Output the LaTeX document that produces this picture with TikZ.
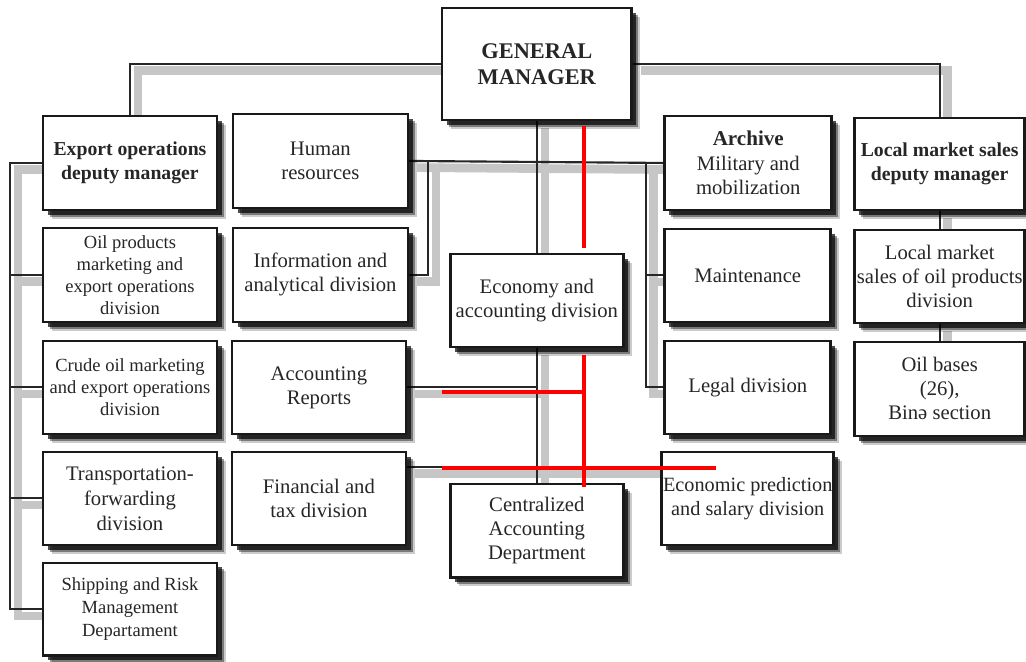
\documentclass[tikz,border=0pt]{standalone}
\usepackage{fontspec}
\setmainfont{Liberation Serif}
\usetikzlibrary{shadows,calc}
\pgfdeclarelayer{back}
\pgfdeclarelayer{bg}
\pgfsetlayers{back,bg,main}
\tikzset{
  box/.style={draw=black!90, line width=2pt, fill=white, align=center, inner sep=1pt,
    font=\fontsize{15.5}{18}\selectfont, text=black!85,
    general shadow={fill=black, opacity=0.2, shadow xshift=6.5pt, shadow yshift=-6.5pt},
    general shadow={fill=black, opacity=0.4, shadow xshift=5pt, shadow yshift=-5pt},
    general shadow={fill=black, opacity=0.7, shadow xshift=3.5pt, shadow yshift=-3.5pt}},
  sz/.style 2 args={minimum width=#1*0.75pt, minimum height=#2*0.75pt},
  smalltext/.style={font=\fontsize{13.9}{16.4}\selectfont},
  boldtext/.style={font=\bfseries\fontsize{14.8}{17.8}\selectfont},
  connsh/.style={draw=gray!45, line width=6.5pt},
  conn/.style={draw=black!85, line width=1.6pt},
  redline/.style={draw=red, line width=3.4pt}
}
\newcommand\orgconnectors[1]{%
  \draw[#1] (gm.west) -| (exp.north);
  \draw[#1] (gm.east) -| (loc.north);
  \draw[#1] (exp.west) -- (lb |- exp.west) -- (lb |- ship.west) -- (ship.west);
  \draw[#1] (oil.west) -- (lb |- oil.west);
  \draw[#1] (crude.west) -- (lb |- crude.west);
  \draw[#1] (trans.west) -- (lb |- trans.west);
  \draw[#1] (gm.south) -- (econ.north);
  \draw[#1] (econ.south) -- (cent.north);
  \draw[#1] (hr.east) -- (arch.west);
  \draw[#1] (info.east) -- (ic |- info.east) -- (ic |- hr.east);
  \draw[#1] (rb |- arch.west) -- (rb |- legal.west) -- (legal.west);
  \draw[#1] (maint.west) -- (rb |- maint.west);
  \draw[#1] (accr.east) -- (gm.south |- accr.east);
  \draw[#1] (fin.east |- fy) -- (ecop.west |- fy);
  \draw[#1] (loc.south) -- (lms.north);
  \draw[#1] (lms.south) -- (oilb.north);
}
\begin{document}
\begin{tikzpicture}[x=0.75pt, y=-0.75pt]
\begin{pgfonlayer}{back}
\path[use as bounding box, fill=white] (0,0) rectangle (1026,662);
\end{pgfonlayer}

% helper coordinates
\coordinate (lb) at (10,0);
\coordinate (ic) at (428,0);
\coordinate (rb) at (646,0);
\coordinate (fy) at (0,467);

% boxes
\node[box, sz={190}{112}, font=\bfseries\fontsize{16.8}{19.5}\selectfont] (gm) at (537,64) {GENERAL\\MANAGER};
\node[box, sz={174}{94}, boldtext] (exp) at (130,163) {Export operations\\deputy manager};
\node[box, sz={175}{94}] (hr) at (320.5,161) {Human\\resources};
\node[box, sz={167}{94}, font=\fontsize{15.5}{18.5}\selectfont] (arch) at (748.5,163) {{\bfseries\fontsize{15.8}{18.5}\selectfont Archive}\\Military and\\mobilization};
\node[box, sz={170}{92}, boldtext] (loc) at (940,164) {Local market sales\\deputy manager};

\node[box, sz={174}{94}, smalltext] (oil) at (130,275) {Oil products\\marketing and\\export operations\\division};
\node[box, sz={175}{94}] (info) at (320.5,275) {Information and\\analytical division};
\node[box, sz={173}{93}] (econ) at (537,300.5) {Economy and\\accounting division};
\node[box, sz={166}{93}] (maint) at (748,275.5) {Maintenance};
\node[box, sz={170}{93}] (lms) at (940,276.5) {Local market\\sales of oil products\\division};

\node[box, sz={174}{93}, smalltext] (crude) at (130,387.5) {Crude oil marketing\\and export operations\\division};
\node[box, sz={174}{93}] (accr) at (319,387.5) {Accounting\\Reports};
\node[box, sz={166}{93}] (legal) at (748,387.5) {Legal division};
\node[box, sz={170}{94}] (oilb) at (940,389) {Oil bases\\(26),\\Binə section};

\node[box, sz={174}{93}, font=\fontsize{15.5}{18.8}\selectfont] (trans) at (130,498.5) {Transportation-\\forwarding\\division};
\node[box, sz={174}{93}] (fin) at (319,498.5) {Financial and\\tax division};
\node[box, sz={173}{94}] (cent) at (537,531) {Centralized\\Accounting\\Department};
\node[box, sz={166}{93}, font=\fontsize{15.2}{18}\selectfont] (ecop) at (748,498.5) {Economic prediction\\and salary division};

\node[box, sz={174}{93}, font=\fontsize{13.9}{17.3}\selectfont] (ship) at (130,609.5) {Shipping and Risk\\Management\\Departament};

% connectors (behind boxes)
\begin{pgfonlayer}{bg}
  \begin{scope}[transform canvas={shift={(6pt,-5pt)}}]
    \orgconnectors{connsh}
  \end{scope}
  \orgconnectors{conn}
\end{pgfonlayer}

% red overlay lines
\coordinate (ra1) at (584,126);
\coordinate (ra2) at (584,248);
\coordinate (rb1) at (584,355);
\coordinate (rb2) at (584,487);
\coordinate (rc1) at (442,392);
\coordinate (rd1) at (442,468);
\coordinate (rd2) at (716,468);
\draw[redline] (ra1) -- (ra2);
\draw[redline] (rb1) -- (rb2);
\draw[redline] (rc1) -- (rc1 -| rb1);
\draw[redline] (rd1) -- (rd2);
\end{tikzpicture}
\end{document}
